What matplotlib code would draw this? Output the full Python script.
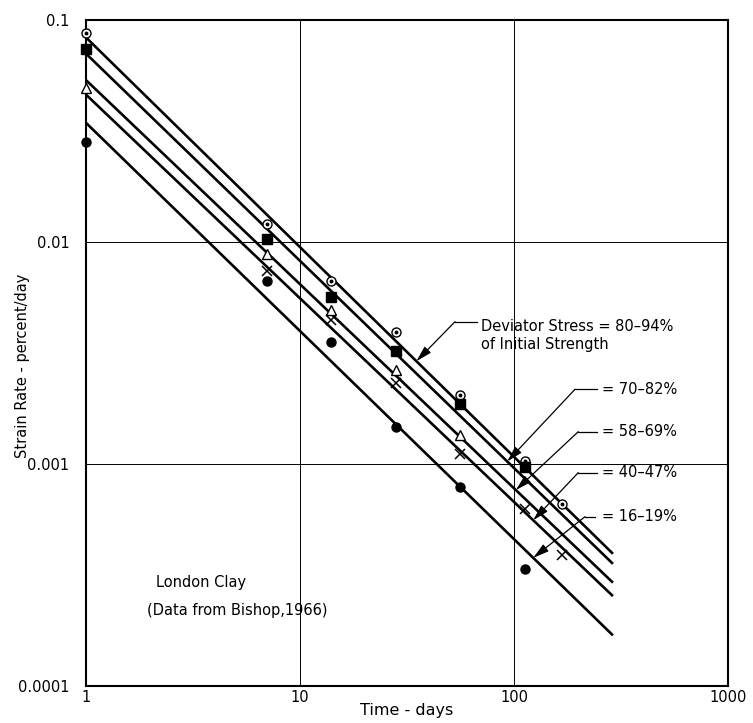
import numpy as np
import matplotlib
matplotlib.use("Agg")
import matplotlib.pyplot as plt

# ---------------- data ----------------
t_80_94 = [1, 7, 14, 28, 56, 112, 168]
r_80_94 = [0.0871, 0.0121, 0.00664, 0.00393, 0.00204, 0.00103, 0.000658]
t_70_82 = [1, 7, 14, 28, 56, 112]
r_70_82 = [0.0740, 0.0103, 0.00566, 0.00324, 0.00187, 0.000966]
t_58_69 = [1, 7, 14, 28, 56]
r_58_69 = [0.0494, 0.00885, 0.00496, 0.00265, 0.00135]
t_40_47 = [7, 14, 28, 56, 112, 168]
r_40_47 = [0.00737, 0.00446, 0.00232, 0.00111, 0.000629, 0.000390]
t_16_19 = [1, 7, 14, 28, 56, 112]
r_16_19 = [0.0282, 0.00664, 0.00356, 0.00147, 0.000784, 0.000337]

# fitted straight lines (value at t=1 and at t=290)
fit_t = [1, 290]
fit_80_94 = [0.0834, 0.000394]
fit_70_82 = [0.0705, 0.000355]
fit_58_69 = [0.0536, 0.000292]
fit_40_47 = [0.0461, 0.000254]
fit_16_19 = [0.0344, 0.000169]

labels = ["Deviator Stress = 80\u201394%", "= 70\u201382%", "= 58\u201369%",
          "= 40\u201347%", "= 16\u201319%"]
arrow_t = [35, 93, 102, 123, 123]

x_ticks = [1, 10, 100, 1000]
x_ticklabels = ["1", "10", "100", "1000"]
y_ticks = [0.0001, 0.001, 0.01, 0.1]
y_ticklabels = ["0.0001", "0.001", "0.01", "0.1"]

# ---------------- figure ----------------
plt.rcParams['font.family'] = ['DejaVu Sans']
fig = plt.figure(figsize=(7.53, 7.23), dpi=100)
ax = fig.add_axes([0.1142, 0.0512, 0.8526, 0.9212])
ax.set_xscale('log')
ax.set_yscale('log')
ax.set_xlim(1, 1000)
ax.set_ylim(0.0001, 0.1)

ax.set_xticks(x_ticks)
ax.set_xticklabels(x_ticklabels)
ax.set_yticks(y_ticks)
ax.set_yticklabels(y_ticklabels)
ax.minorticks_off()
ax.tick_params(length=0, labelsize=10.5, colors='black')
ax.tick_params(axis='y', pad=12)
ax.tick_params(axis='x', pad=3)
ax.grid(True, which='major', color='black', lw=0.7)
for s in ax.spines.values():
    s.set_linewidth(1.5)

fits = [fit_80_94, fit_70_82, fit_58_69, fit_40_47, fit_16_19]
for f in fits:
    ax.plot(fit_t, f, color='black', lw=1.9, zorder=3, solid_capstyle='butt')

ms = 6.5
ax.plot(t_80_94, r_80_94, ls='none', marker='o', ms=ms, mfc='white',
        mec='black', mew=1.0, zorder=5, clip_on=False)
ax.plot(t_80_94, r_80_94, ls='none', marker='o', ms=1.8, mfc='black',
        mec='black', zorder=6, clip_on=False)
ax.plot(t_70_82, r_70_82, ls='none', marker='s', ms=7, mfc='black',
        mec='black', zorder=5, clip_on=False)
ax.plot(t_58_69, r_58_69, ls='none', marker='^', ms=7, mfc='white',
        mec='black', mew=1.0, zorder=5, clip_on=False)
ax.plot(t_40_47, r_40_47, ls='none', marker='x', ms=6.5, mec='black',
        mew=1.1, zorder=5, clip_on=False)
ax.plot(t_16_19, r_16_19, ls='none', marker='o', ms=6.5, mfc='black',
        mec='black', zorder=5, clip_on=False)

# annotations
lead_x0 = [0.6086, 0.7955, 0.7955, 0.7955, 0.7928]
lead_x1 = [0.5748, 0.7617, 0.7668, 0.7668, 0.7773]
lead_y = [0.547, 0.4455, 0.3818, 0.3203, 0.2542]
text_x = [0.616, 0.803, 0.803, 0.803, 0.803]
text_y = [0.5395, 0.4455, 0.3818, 0.3203, 0.2542]

for i, f in enumerate(fits):
    lt = np.log10(fit_t)
    lf = np.log10(f)
    rt = 10 ** np.interp(np.log10(arrow_t[i]), lt, lf)
    ax.plot([lead_x0[i], lead_x1[i]], [lead_y[i], lead_y[i]], color='black',
            lw=0.9, transform=ax.transAxes, zorder=4)
    ax.annotate('', xy=(arrow_t[i], rt), xycoords='data',
                xytext=(lead_x1[i], lead_y[i]), textcoords='axes fraction',
                arrowprops=dict(arrowstyle='-|>,head_length=0.8,head_width=0.22',
                                color='black', lw=0.9, shrinkA=0, shrinkB=0,
                                mutation_scale=12), zorder=7)
    ax.text(text_x[i], text_y[i], labels[i], transform=ax.transAxes,
            ha='left', va='center', fontsize=10.5)
ax.text(text_x[0], 0.512, "of Initial Strength", transform=ax.transAxes,
        ha='left', va='center', fontsize=10.5)

ax.text(0.109, 0.155, "London Clay", transform=ax.transAxes, ha='left',
        va='center', fontsize=10.5)
ax.text(0.0945, 0.114, "(Data from Bishop,1966)", transform=ax.transAxes,
        ha='left', va='center', fontsize=10.5)

ax.set_xlabel("Time - days", fontsize=11.5)
ax.xaxis.set_label_coords(0.50, -0.026)
ax.set_ylabel("Strain Rate - percent/day", fontsize=10.5)
ax.yaxis.set_label_coords(-0.087, 0.48)

fig.savefig("out.png", dpi=100)
